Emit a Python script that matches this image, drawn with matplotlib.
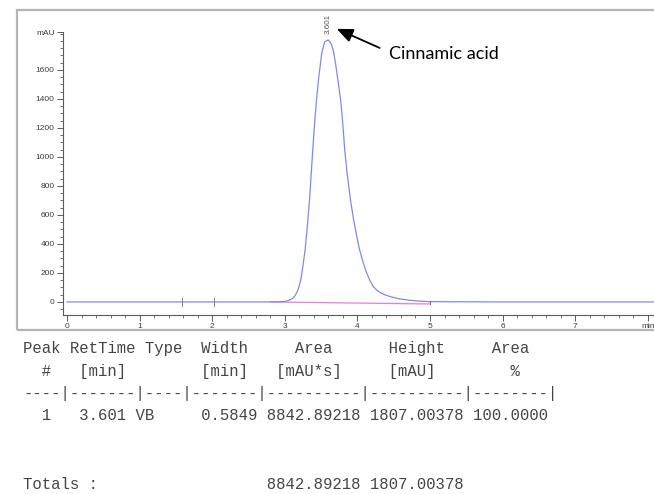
import matplotlib
matplotlib.use("Agg")
import matplotlib.pyplot as plt
from matplotlib.patches import Rectangle
from matplotlib.ticker import MultipleLocator
from matplotlib.text import OffsetFrom

# ---------------- data ----------------
time_min = [0.00, 1.00, 2.00, 2.80, 2.95, 3.00, 3.05, 3.10, 3.14, 3.18, 3.22,
            3.25, 3.28, 3.31, 3.34, 3.385, 3.41, 3.436, 3.47, 3.51, 3.55,
            3.60, 3.64, 3.67, 3.70, 3.74, 3.77, 3.80, 3.825, 3.86, 3.906,
            3.95, 4.00, 4.03, 4.08, 4.12, 4.17, 4.22, 4.27, 4.32, 4.40,
            4.48, 4.58, 4.70, 4.82, 4.92, 5.00, 6.00, 7.00, 8.10]
signal_mau = [0, 0, 0, 0, 1, 3, 10, 22, 42, 80, 150,
              250, 360, 520, 700, 1050, 1230, 1390, 1560, 1720, 1795,
              1807, 1780, 1730, 1640, 1500, 1390, 1220, 1050, 880, 700,
              560, 430, 360, 270, 210, 150, 105, 80, 63, 45,
              33, 21, 13, 7, 4, 2, 0, 0, 0]

baseline_time = [2.80, 5.00]
baseline_mau = [0, -14]
event_times = [1.58, 2.02]

peak_label = "3.601"
compound = "Cinnamic acid"

x_ticks = [0, 1, 2, 3, 4, 5, 6, 7, 8]
x_tick_labels = ["0", "1", "2", "3", "4", "5", "6", "7", "min"]
y_ticks = [0, 200, 400, 600, 800, 1000, 1200, 1400, 1600]
y_unit = "mAU"

# report table
peak_no = [1]
ret_time = [3.601]
peak_type = ["VB"]
peak_width = [0.5849]
peak_area = [8842.89218]
peak_height = [1807.00378]
area_pct = [100.0000]
total_area = 8842.89218
total_height = 1807.00378

# ---------------- figure ----------------
W, H = 654, 494
fig = plt.figure(figsize=(W / 100, H / 100), dpi=100)
fig.patch.set_facecolor("white")

# outer gray frame of the chromatogram window
frame = Rectangle((17 / W, 1 - 330 / H), (W + 20 - 17) / W, (330 - 10) / H,
                  transform=fig.transFigure, fill=False, ec="#b4b4b4", lw=1.6)
fig.add_artist(frame)

x0, x1 = -0.055, 8.085
y0, y1 = -90, 1862
ax = fig.add_axes([63 / W, 1 - 315 / H, (W - 63) / W, (315 - 32) / H])
ax.set_xlim(x0, x1)
ax.set_ylim(y0, y1)
ax.set_facecolor("white")

for s in ("top", "right"):
    ax.spines[s].set_visible(False)
for s in ("left", "bottom"):
    ax.spines[s].set_color("#5a5a5a")
    ax.spines[s].set_linewidth(0.8)

ax.set_xticks(x_ticks)
ax.set_xticklabels(x_tick_labels)
ax.set_yticks(y_ticks + [y1])
ax.set_yticklabels([str(v) for v in y_ticks] + [y_unit])
ax.xaxis.set_minor_locator(MultipleLocator(0.2))
ax.yaxis.set_minor_locator(MultipleLocator(50))
ax.tick_params(which="major", direction="out", length=4, width=0.7,
               colors="#5a5a5a", labelsize=6, labelcolor="#3c3c3c", pad=2)
ax.tick_params(which="minor", direction="out", length=2.2, width=0.6,
               colors="#5a5a5a")
for lab in ax.get_xticklabels() + ax.get_yticklabels():
    lab.set_fontfamily("Liberation Sans")

# signal trace
ax.plot(time_min, signal_mau, color="#8585f2", lw=0.9, zorder=3,
        clip_on=False)
# integration baseline
ax.plot(baseline_time, baseline_mau, color="#f07ad8", lw=0.9, zorder=2)
ax.plot([baseline_time[-1], baseline_time[-1]], [baseline_mau[-1], 8],
        color="#707070", lw=0.7, zorder=4)
# event markers
for t in event_times:
    ax.plot([t, t], [-25, 30], color="#808080", lw=0.7, zorder=4)

# peak retention-time label
pk = signal_mau.index(max(signal_mau))
apex = (time_min[pk], signal_mau[pk])
ax.annotate(peak_label, xy=apex,
            xytext=(0, 4.5), textcoords="offset points",
            rotation=90, ha="center", va="bottom", fontsize=5.8,
            color="#555555", family="Liberation Sans",
            annotation_clip=False)

# compound annotation with arrow (head just right of the label)
anchor = OffsetFrom(ax.transData, apex, unit="points")
ax.annotate(compound, xy=(6.0, 8.0), xycoords=anchor,
            xytext=(37.5, -18), textcoords="offset points",
            ha="left", va="center", fontsize=13, family="Lato",
            color="black",
            arrowprops=dict(arrowstyle="-|>,head_length=0.75,head_width=0.32",
                            color="black", lw=1.3,
                            shrinkA=5, shrinkB=0,
                            relpos=(0, 0.62)),
            annotation_clip=False)

# ---------------- report table ----------------
mono = "Liberation Mono"
fs = 11.25
tc = "#454545"
lines = [
    (348, "Peak RetTime Type  Width     Area      Height     Area"),
    (371, "  #   [min]        [min]   [mAU*s]     [mAU]        %"),
    (393, "----|-------|----|-------|----------|----------|--------|"),
]
for i in range(len(peak_no)):
    row = "%3d %7.3f %-4s  %7.4f %10.5f %10.5f %8.4f" % (
        peak_no[i], ret_time[i], peak_type[i], peak_width[i],
        peak_area[i], peak_height[i], area_pct[i])
    lines.append((416 + 23 * i, row))
lines.append((484, "Totals :" + " " * 18 + "%10.5f %10.5f" % (total_area, total_height)))

for ypx, txt in lines:
    fig.text(23 / W, 1 - ypx / H, txt, family=mono, fontsize=fs, color=tc,
             ha="left", va="center")

fig.savefig("out.png", dpi=100, facecolor="white")
